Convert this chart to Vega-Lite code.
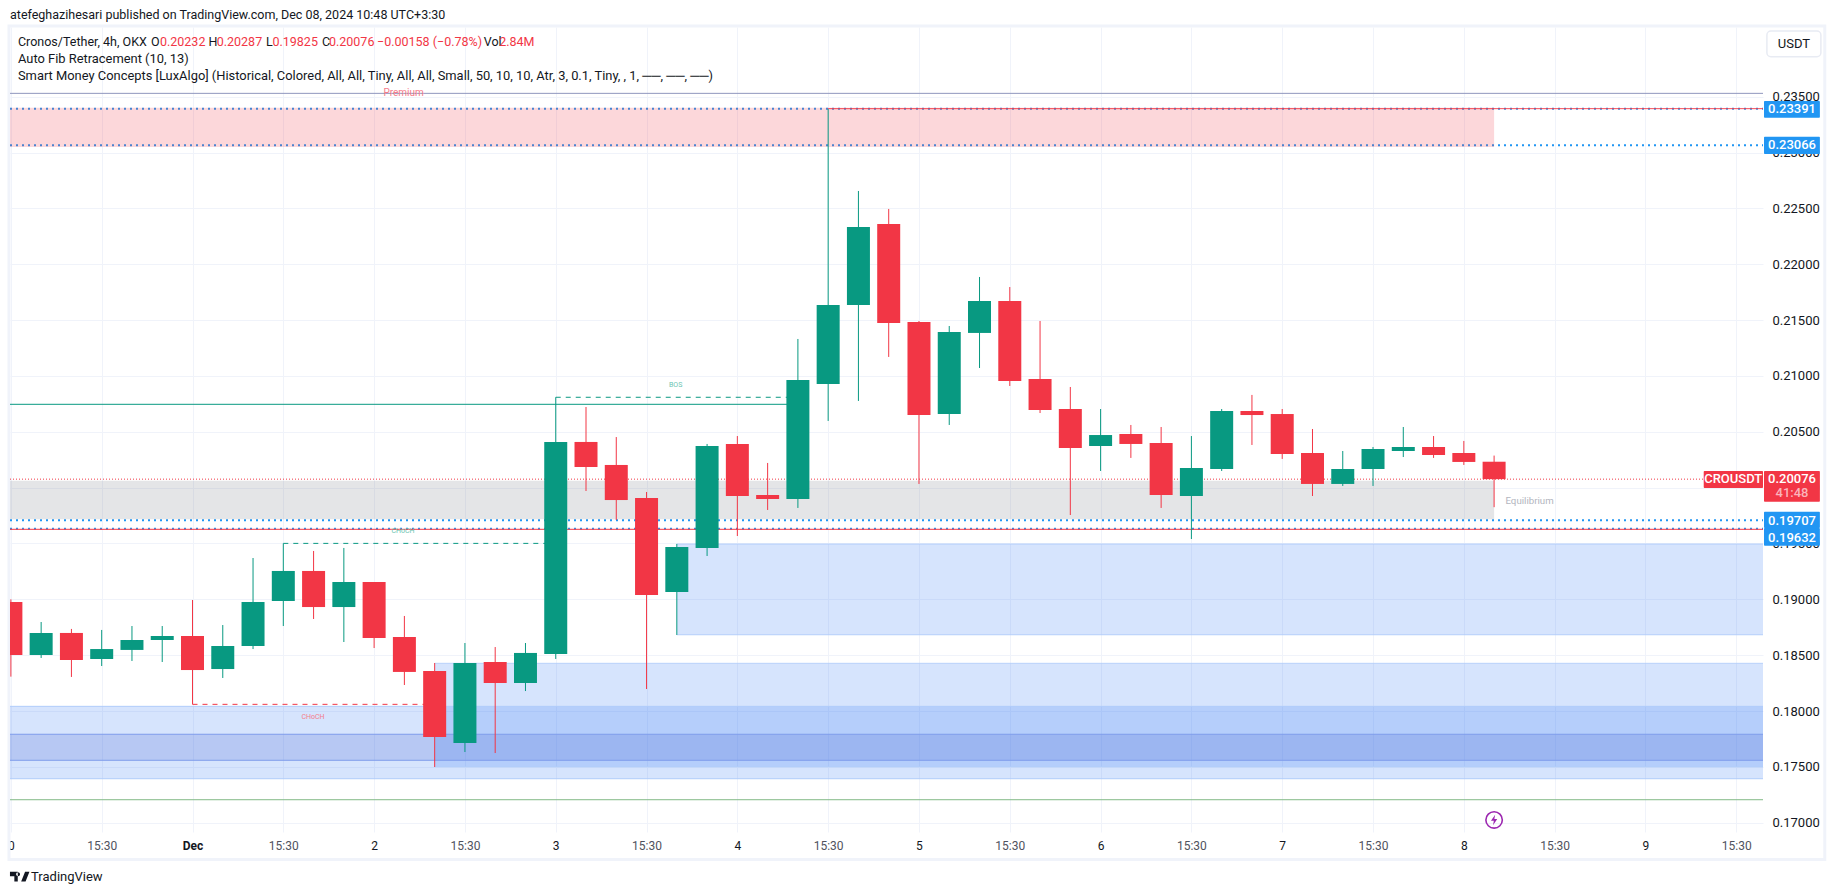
{
"$schema":"https://vega.github.io/schema/vega-lite/v6.json",
"width":1753,"height":805,
"autosize":"none",
"padding":{"left":10,"top":27,"right":72,"bottom":63},
"background":"#ffffff",
"resolve":{"axis":{"x":"independent","y":"independent"},"scale":{"color":"independent","fill":"independent","fillOpacity":"independent","strokeDash":"independent"}},
"config":{"view":{"stroke":null},"text":{"font":"Roboto"},"axis":{"labelFont":"Roboto"}},
"datasets":{
"candles":[
{"t":"2024-11-30T03:30:00Z","o":0.18976,"h":0.19,"l":0.18308,"c":0.18502,"dir":"down"},
{"t":"2024-11-30T07:30:00Z","o":0.18502,"h":0.18797,"l":0.18475,"c":0.18699,"dir":"up"},
{"t":"2024-11-30T11:30:00Z","o":0.18699,"h":0.18735,"l":0.18305,"c":0.18457,"dir":"down"},
{"t":"2024-11-30T15:30:00Z","o":0.18466,"h":0.18726,"l":0.18403,"c":0.18555,"dir":"up"},
{"t":"2024-11-30T19:30:00Z","o":0.18547,"h":0.18761,"l":0.18448,"c":0.18636,"dir":"up"},
{"t":"2024-11-30T23:30:00Z","o":0.18636,"h":0.18761,"l":0.18439,"c":0.18672,"dir":"up"},
{"t":"2024-12-01T03:30:00Z","o":0.18672,"h":0.18994,"l":0.1806,"c":0.18367,"dir":"down"},
{"t":"2024-12-01T07:30:00Z","o":0.18376,"h":0.1877,"l":0.18296,"c":0.18582,"dir":"up"},
{"t":"2024-12-01T11:30:00Z","o":0.18582,"h":0.1937,"l":0.18555,"c":0.18976,"dir":"up"},
{"t":"2024-12-01T15:30:00Z","o":0.18985,"h":0.19501,"l":0.18761,"c":0.19254,"dir":"up"},
{"t":"2024-12-01T19:30:00Z","o":0.19254,"h":0.19433,"l":0.18824,"c":0.18931,"dir":"down"},
{"t":"2024-12-01T23:30:00Z","o":0.18931,"h":0.1946,"l":0.18618,"c":0.19155,"dir":"up"},
{"t":"2024-12-02T03:30:00Z","o":0.19155,"h":0.19155,"l":0.18564,"c":0.18654,"dir":"down"},
{"t":"2024-12-02T07:30:00Z","o":0.18663,"h":0.18851,"l":0.18233,"c":0.1835,"dir":"down"},
{"t":"2024-12-02T11:30:00Z","o":0.18359,"h":0.1843,"l":0.17499,"c":0.17768,"dir":"down"},
{"t":"2024-12-02T15:30:00Z","o":0.17714,"h":0.18609,"l":0.17633,"c":0.1843,"dir":"up"},
{"t":"2024-12-02T19:30:00Z","o":0.18439,"h":0.18573,"l":0.17624,"c":0.18251,"dir":"down"},
{"t":"2024-12-02T23:30:00Z","o":0.18251,"h":0.18609,"l":0.18179,"c":0.1852,"dir":"up"},
{"t":"2024-12-03T03:30:00Z","o":0.18511,"h":0.20809,"l":0.18466,"c":0.20409,"dir":"up"},
{"t":"2024-12-03T07:30:00Z","o":0.20409,"h":0.20722,"l":0.1997,"c":0.20185,"dir":"down"},
{"t":"2024-12-03T11:30:00Z","o":0.20203,"h":0.20453,"l":0.1971,"c":0.19889,"dir":"down"},
{"t":"2024-12-03T15:30:00Z","o":0.19907,"h":0.19961,"l":0.18197,"c":0.19039,"dir":"down"},
{"t":"2024-12-03T19:30:00Z","o":0.19066,"h":0.19496,"l":0.18681,"c":0.19469,"dir":"up"},
{"t":"2024-12-03T23:30:00Z","o":0.1946,"h":0.20391,"l":0.19388,"c":0.20373,"dir":"up"},
{"t":"2024-12-04T03:30:00Z","o":0.20391,"h":0.20462,"l":0.19567,"c":0.19925,"dir":"down"},
{"t":"2024-12-04T07:30:00Z","o":0.19934,"h":0.20221,"l":0.198,"c":0.19898,"dir":"down"},
{"t":"2024-12-04T11:30:00Z","o":0.19898,"h":0.21331,"l":0.19818,"c":0.20964,"dir":"up"},
{"t":"2024-12-04T15:30:00Z","o":0.20928,"h":0.2339,"l":0.20597,"c":0.21635,"dir":"up"},
{"t":"2024-12-04T19:30:00Z","o":0.21635,"h":0.22656,"l":0.20776,"c":0.22334,"dir":"up"},
{"t":"2024-12-04T23:30:00Z","o":0.2236,"h":0.22495,"l":0.2117,"c":0.21474,"dir":"down"},
{"t":"2024-12-05T03:30:00Z","o":0.21483,"h":0.21492,"l":0.20033,"c":0.2065,"dir":"down"},
{"t":"2024-12-05T07:30:00Z","o":0.20659,"h":0.21447,"l":0.20561,"c":0.21394,"dir":"up"},
{"t":"2024-12-05T11:30:00Z","o":0.21385,"h":0.21886,"l":0.21071,"c":0.21671,"dir":"up"},
{"t":"2024-12-05T15:30:00Z","o":0.21671,"h":0.21796,"l":0.2091,"c":0.20955,"dir":"down"},
{"t":"2024-12-05T19:30:00Z","o":0.20973,"h":0.21492,"l":0.20668,"c":0.20695,"dir":"down"},
{"t":"2024-12-05T23:30:00Z","o":0.20704,"h":0.20901,"l":0.19755,"c":0.20355,"dir":"down"},
{"t":"2024-12-06T03:30:00Z","o":0.20373,"h":0.20704,"l":0.20149,"c":0.20471,"dir":"up"},
{"t":"2024-12-06T07:30:00Z","o":0.2048,"h":0.20561,"l":0.20266,"c":0.20391,"dir":"down"},
{"t":"2024-12-06T11:30:00Z","o":0.204,"h":0.20543,"l":0.19818,"c":0.19934,"dir":"down"},
{"t":"2024-12-06T15:30:00Z","o":0.19925,"h":0.20462,"l":0.1954,"c":0.20176,"dir":"up"},
{"t":"2024-12-06T19:30:00Z","o":0.20167,"h":0.20704,"l":0.20149,"c":0.20686,"dir":"up"},
{"t":"2024-12-06T23:30:00Z","o":0.20686,"h":0.2083,"l":0.20382,"c":0.2065,"dir":"down"},
{"t":"2024-12-07T03:30:00Z","o":0.20659,"h":0.20704,"l":0.20257,"c":0.20301,"dir":"down"},
{"t":"2024-12-07T07:30:00Z","o":0.2031,"h":0.20525,"l":0.19925,"c":0.20033,"dir":"down"},
{"t":"2024-12-07T11:30:00Z","o":0.20033,"h":0.20328,"l":0.20015,"c":0.20167,"dir":"up"},
{"t":"2024-12-07T15:30:00Z","o":0.20167,"h":0.20364,"l":0.20015,"c":0.20346,"dir":"up"},
{"t":"2024-12-07T19:30:00Z","o":0.20328,"h":0.20543,"l":0.20274,"c":0.20364,"dir":"up"},
{"t":"2024-12-07T23:30:00Z","o":0.20364,"h":0.20462,"l":0.20266,"c":0.20292,"dir":"down"},
{"t":"2024-12-08T03:30:00Z","o":0.2031,"h":0.20418,"l":0.20203,"c":0.2023,"dir":"down"},
{"t":"2024-12-08T07:30:00Z","o":0.20232,"h":0.20287,"l":0.19825,"c":0.20076,"dir":"down"}
],
"zones":[
{"name":"Premium","t1":"2024-11-30T03:23:00Z","t2":"2024-12-08T07:30:00Z","p1":0.234,"p2":0.2305},
{"name":"Equilibrium","t1":"2024-11-30T03:23:00Z","t2":"2024-12-08T07:30:00Z","p1":0.20062,"p2":0.19717},
{"name":"Box A","t1":"2024-12-03T19:30:00Z","t2":"2024-12-09T19:02:00Z","p1":0.19495,"p2":0.18683},
{"name":"Box B","t1":"2024-12-02T11:30:00Z","t2":"2024-12-09T19:02:00Z","p1":0.18427,"p2":0.17502},
{"name":"Box C","t1":"2024-11-30T03:23:00Z","t2":"2024-12-09T19:02:00Z","p1":0.18042,"p2":0.17394},
{"name":"Box D","t1":"2024-11-30T03:23:00Z","t2":"2024-12-09T19:02:00Z","p1":0.17792,"p2":0.17559}
],
"backLines":[
{"t1":"2024-11-30T03:23:00Z","t2":"2024-12-09T19:02:00Z","p":0.23391},
{"t1":"2024-11-30T03:23:00Z","t2":"2024-12-09T19:02:00Z","p":0.23066},
{"t1":"2024-11-30T03:23:00Z","t2":"2024-12-09T19:02:00Z","p":0.19707},
{"t1":"2024-11-30T03:23:00Z","t2":"2024-12-09T19:02:00Z","p":0.19632}
],
"frontLines":[
{"t1":"2024-11-30T03:23:00Z","t2":"2024-12-09T19:02:00Z","p":0.2353,"style":"top"},
{"t1":"2024-12-04T15:30:00Z","t2":"2024-12-09T19:02:00Z","p":0.23393,"style":"red"},
{"t1":"2024-11-30T03:23:00Z","t2":"2024-12-09T19:02:00Z","p":0.19627,"style":"red"},
{"t1":"2024-11-30T03:23:00Z","t2":"2024-12-09T19:02:00Z","p":0.17206,"style":"bottom"},
{"t1":"2024-11-30T03:23:00Z","t2":"2024-12-04T11:30:00Z","p":0.20746,"style":"green"},
{"t1":"2024-12-03T03:30:00Z","t2":"2024-12-04T11:30:00Z","p":0.20809,"style":"greenDash"},
{"t1":"2024-12-01T15:30:00Z","t2":"2024-12-03T03:30:00Z","p":0.19501,"style":"greenDash"},
{"t1":"2024-12-01T03:30:00Z","t2":"2024-12-02T11:30:00Z","p":0.1806,"style":"redDash"},
{"t1":"2024-11-30T03:23:00Z","t2":"2024-12-09T19:02:00Z","p":0.20076,"style":"price"},
{"t1":"2024-12-03T19:30:00Z","t2":"2024-12-09T19:02:00Z","p":0.19495,"style":"edge"},
{"t1":"2024-12-03T19:30:00Z","t2":"2024-12-09T19:02:00Z","p":0.18683,"style":"edge"},
{"t1":"2024-12-02T11:30:00Z","t2":"2024-12-09T19:02:00Z","p":0.18427,"style":"edge"},
{"t1":"2024-12-02T11:30:00Z","t2":"2024-12-09T19:02:00Z","p":0.17502,"style":"edge"},
{"t1":"2024-11-30T03:23:00Z","t2":"2024-12-09T19:02:00Z","p":0.18042,"style":"edge"},
{"t1":"2024-11-30T03:23:00Z","t2":"2024-12-09T19:02:00Z","p":0.17394,"style":"edge"},
{"t1":"2024-11-30T03:23:00Z","t2":"2024-12-09T19:02:00Z","p":0.17792,"style":"edgeDark"},
{"t1":"2024-11-30T03:23:00Z","t2":"2024-12-09T19:02:00Z","p":0.17559,"style":"edgeDark"}
],
"notes":[
{"t":"2024-12-03T19:21:00Z","p":0.20919,"label":"BOS","kind":"greenNote"},
{"t":"2024-12-02T07:19:00Z","p":0.19609,"label":"CHoCH","kind":"greenNote"},
{"t":"2024-12-01T19:25:00Z","p":0.17949,"label":"CHoCH","kind":"redNote"}
],
"premiumText":[{"t":"2024-12-02T07:24:00Z","p":0.23536,"label":"Premium"}],
"header":[
{"t":"2024-11-30T03:23:00Z","p":0.24234,"label":"atefeghazihesari published on TradingView.com, Dec 08, 2024 10:48 UTC+3:30","kind":"ink"},
{"t":"2024-11-30T04:26:00Z","p":0.2399,"label":"Cronos/Tether, 4h, OKX","kind":"ink"},
{"t":"2024-11-30T22:01:00Z","p":0.2399,"label":"O","kind":"ink"},
{"t":"2024-11-30T23:12:00Z","p":0.2399,"label":"0.20232","kind":"red"},
{"t":"2024-12-01T05:36:00Z","p":0.2399,"label":"H","kind":"ink"},
{"t":"2024-12-01T06:42:00Z","p":0.2399,"label":"0.20287","kind":"red"},
{"t":"2024-12-01T13:13:00Z","p":0.2399,"label":"L","kind":"ink"},
{"t":"2024-12-01T14:04:00Z","p":0.2399,"label":"0.19825","kind":"red"},
{"t":"2024-12-01T20:36:00Z","p":0.2399,"label":"C","kind":"ink"},
{"t":"2024-12-01T21:32:00Z","p":0.2399,"label":"0.20076","kind":"red"},
{"t":"2024-12-02T03:53:00Z","p":0.2399,"label":"−0.00158 (−0.78%)","kind":"red"},
{"t":"2024-12-02T17:59:00Z","p":0.2399,"label":"Vol","kind":"ink"},
{"t":"2024-12-02T20:02:00Z","p":0.2399,"label":"2.84M","kind":"red"}
],
"legendLines":[
{"t":"2024-11-30T04:26:00Z","p":0.23838,"label":"Auto Fib Retracement (10, 13)"},
{"t":"2024-11-30T04:26:00Z","p":0.23683,"label":"Smart Money Concepts [LuxAlgo] (Historical, Colored, All, All, Tiny, All, All, Small, 50, 10, 10, Atr, 3, 0.1, Tiny, , 1, ──, ──, ──)"}
],
"tags":[
{"t1":"2024-12-09T19:10:00Z","t2":"2024-12-10T02:33:00Z","p1":0.23462,"p2":0.23312,"kind":"blue"},
{"t1":"2024-12-09T19:10:00Z","t2":"2024-12-10T02:33:00Z","p1":0.23141,"p2":0.22987,"kind":"blue"},
{"t1":"2024-12-09T19:10:00Z","t2":"2024-12-10T02:33:00Z","p1":0.19785,"p2":0.19639,"kind":"blue"},
{"t1":"2024-12-09T19:10:00Z","t2":"2024-12-10T02:33:00Z","p1":0.19639,"p2":0.1948,"kind":"blue"},
{"t1":"2024-12-09T19:10:00Z","t2":"2024-12-10T02:33:00Z","p1":0.20149,"p2":0.19874,"kind":"red"},
{"t1":"2024-12-09T11:12:00Z","t2":"2024-12-09T19:02:00Z","p1":0.20149,"p2":0.19997,"kind":"red"}
],
"tagText":[
{"t":"2024-12-09T22:52:00Z","p":0.23391,"label":"0.23391","kind":"main"},
{"t":"2024-12-09T22:52:00Z","p":0.23066,"label":"0.23066","kind":"main"},
{"t":"2024-12-09T22:52:00Z","p":0.20076,"label":"0.20076","kind":"main"},
{"t":"2024-12-09T22:52:00Z","p":0.19949,"label":"41:48","kind":"soft"},
{"t":"2024-12-09T22:52:00Z","p":0.19704,"label":"0.19707","kind":"main"},
{"t":"2024-12-09T22:52:00Z","p":0.19552,"label":"0.19632","kind":"main"},
{"t":"2024-12-09T15:06:00Z","p":0.20076,"label":"CROUSDT","kind":"main"}
],
"frame":[{"t1":"2024-11-30T03:15:00Z","t2":"2024-12-10T03:12:00Z","p1":0.24133,"p2":0.16671}],
"button":[{"t1":"2024-12-09T19:33:00Z","t2":"2024-12-10T02:41:00Z","p1":0.24088,"p2":0.23858}],
"buttonText":[{"t":"2024-12-09T23:07:00Z","p":0.23972,"label":"USDT"}],
"equilibriumText":[{"t":"2024-12-08T09:00:00Z","p":0.1988,"label":"Equilibrium"}],
"brand":[{"t":"2024-11-30T06:10:00Z","p":0.16517,"label":"TradingView"}],
"logo":[{"t":"2024-11-30T04:40:00Z","p":0.16517}],
"alert":[{"t":"2024-12-08T07:30:00Z","p":0.17025}]
},
"layer":[
{"data":{"name":"frame"},"mark":{"type":"rect","fillOpacity":0,"stroke":"#f0f3fa","strokeWidth":3},
 "encoding":{
  "x":{"field":"t1","type":"temporal","title":null,
   "scale":{"type":"utc","domain":["2024-11-30T03:23:00Z","2024-12-09T19:02:00Z"],"nice":false,"padding":0},
   "axis":{"orient":"bottom","domain":false,"ticks":false,"grid":true,"gridColor":"#f0f3fa","gridWidth":1,"labelFontSize":12,"labelPadding":8,"labelOverlap":false,"labelFlush":false,"labelBound":false,
    "labelColor":{"condition":{"test":"utchours(datum.value)==15","value":"#50535e"},"value":"#131722"},
    "labelFontWeight":{"condition":{"test":"utcdate(datum.value)==1&&utchours(datum.value)==3","value":"bold"},"value":"normal"},
    "values":["2024-11-30T03:30:00Z","2024-11-30T15:30:00Z","2024-12-01T03:30:00Z","2024-12-01T15:30:00Z","2024-12-02T03:30:00Z","2024-12-02T15:30:00Z","2024-12-03T03:30:00Z","2024-12-03T15:30:00Z","2024-12-04T03:30:00Z","2024-12-04T15:30:00Z","2024-12-05T03:30:00Z","2024-12-05T15:30:00Z","2024-12-06T03:30:00Z","2024-12-06T15:30:00Z","2024-12-07T03:30:00Z","2024-12-07T15:30:00Z","2024-12-08T03:30:00Z","2024-12-08T15:30:00Z","2024-12-09T03:30:00Z","2024-12-09T15:30:00Z"],
    "labelExpr":"utchours(datum.value)==15?'15:30':(utcdate(datum.value)==1?'Dec':(utcdate(datum.value)==30?'0':''+utcdate(datum.value)))"}},
  "x2":{"field":"t2"},
  "y":{"field":"p1","type":"quantitative","title":null,
   "scale":{"domain":[0.16917,0.24124],"nice":false,"zero":false},
   "axis":{"orient":"right","domain":false,"ticks":false,"grid":true,"gridColor":"#f0f3fa","gridWidth":1,"labelFontSize":13,"labelColor":"#131722","labelPadding":9,"labelOverlap":false,"labelBound":false,"format":".5f",
    "values":[0.17,0.175,0.18,0.185,0.19,0.195,0.2,0.205,0.21,0.215,0.22,0.225,0.23,0.235]}},
  "y2":{"field":"p2"}}},
{"data":{"name":"backLines"},"mark":{"type":"rule","clip":true,"color":"#2196f3","strokeWidth":2,"strokeDash":[2,4]},
 "encoding":{"x":{"field":"t1","type":"temporal","axis":null},"x2":{"field":"t2"},"y":{"field":"p","type":"quantitative","axis":null}}},
{"data":{"name":"zones"},"mark":{"type":"rect","clip":true},
 "encoding":{"x":{"field":"t1","type":"temporal","axis":null},"x2":{"field":"t2"},"y":{"field":"p1","type":"quantitative","axis":null},"y2":{"field":"p2"},
  "fill":{"field":"name","type":"nominal","legend":null,"scale":{"domain":["Premium","Equilibrium","Box A","Box B","Box C","Box D"],"range":["#f23645","#787b86","#3179f5","#3179f5","#3179f5","#3e5ccd"]}},
  "fillOpacity":{"field":"name","type":"ordinal","legend":null,"scale":{"domain":["Premium","Equilibrium","Box A","Box B","Box C","Box D"],"range":[0.2,0.2,0.2,0.2,0.2,0.25]}}}},
{"data":{"name":"frontLines"},"mark":{"type":"rule","clip":true,"strokeWidth":1},
 "encoding":{"x":{"field":"t1","type":"temporal","axis":null},"x2":{"field":"t2"},"y":{"field":"p","type":"quantitative","axis":null},
  "color":{"field":"style","type":"nominal","legend":null,"scale":{"domain":["top","red","bottom","green","greenDash","redDash","price","edge","edgeDark"],"range":["#8f97bd","#f23645","#82b986","#089981","#089981","#f23645","#f23645","#b0ccfa","#7f9ceb"]}},
  "strokeDash":{"field":"style","type":"nominal","legend":null,"scale":{"domain":["top","red","bottom","green","greenDash","redDash","price","edge","edgeDark"],"range":[[1,0],[1,0],[1,0],[1,0],[5,5],[5,5],[1,2],[1,0],[1,0]]}}}},
{"data":{"name":"candles"},"mark":{"type":"rule","clip":true,"strokeWidth":1},
 "encoding":{"x":{"field":"t","type":"temporal","axis":null},"y":{"field":"l","type":"quantitative","axis":null},"y2":{"field":"h"},
  "color":{"field":"dir","type":"nominal","legend":null,"scale":{"domain":["up","down"],"range":["#089981","#f23645"]}}}},
{"data":{"name":"candles"},"mark":{"type":"bar","clip":true,"size":23,"cornerRadius":0},
 "encoding":{"x":{"field":"t","type":"temporal","axis":null,"scale":{"padding":0}},"y":{"field":"o","type":"quantitative","axis":null},"y2":{"field":"c"},
  "color":{"field":"dir","type":"nominal","legend":null,"scale":{"domain":["up","down"],"range":["#089981","#f23645"]}}}},
{"data":{"name":"notes"},"mark":{"type":"text","align":"center","baseline":"middle","fontSize":7,"font":"Roboto"},
 "encoding":{"x":{"field":"t","type":"temporal","axis":null},"y":{"field":"p","type":"quantitative","axis":null},"text":{"field":"label"},
  "color":{"field":"kind","type":"nominal","legend":null,"scale":{"domain":["redNote","greenNote"],"range":["#f57c8a","#6cc5b2"]}}}},
{"data":{"name":"premiumText"},"mark":{"type":"text","align":"center","baseline":"middle","fontSize":10,"font":"Roboto","color":"#f57c8a"},
 "encoding":{"x":{"field":"t","type":"temporal","axis":null},"y":{"field":"p","type":"quantitative","axis":null},"text":{"field":"label"}}},
{"data":{"name":"equilibriumText"},"mark":{"type":"text","align":"left","baseline":"middle","fontSize":9.7,"color":"#b2b5be","font":"Roboto"},
 "encoding":{"x":{"field":"t","type":"temporal","axis":null},"y":{"field":"p","type":"quantitative","axis":null},"text":{"field":"label"}}},
{"data":{"name":"header"},"mark":{"type":"text","align":"left","baseline":"middle","fontSize":12.5,"font":"Roboto"},
 "encoding":{"x":{"field":"t","type":"temporal","axis":null},"y":{"field":"p","type":"quantitative","axis":null},"text":{"field":"label"},
  "color":{"field":"kind","type":"nominal","legend":null,"scale":{"domain":["ink","red"],"range":["#131722","#f23645"]}}}},
{"data":{"name":"legendLines"},"mark":{"type":"text","align":"left","baseline":"middle","fontSize":12.9,"font":"Roboto","color":"#131722"},
 "encoding":{"x":{"field":"t","type":"temporal","axis":null},"y":{"field":"p","type":"quantitative","axis":null},"text":{"field":"label"}}},
{"data":{"name":"tags"},"mark":{"type":"rect","cornerRadius":1},
 "encoding":{"x":{"field":"t1","type":"temporal","axis":null},"x2":{"field":"t2"},"y":{"field":"p1","type":"quantitative","axis":null},"y2":{"field":"p2"},
  "fill":{"field":"kind","type":"nominal","legend":null,"scale":{"domain":["blue","red"],"range":["#2196f3","#f23645"]}}}},
{"data":{"name":"tagText"},"mark":{"type":"text","align":"center","baseline":"middle","fontSize":13,"font":"Roboto","fontWeight":500},
 "encoding":{"x":{"field":"t","type":"temporal","axis":null},"y":{"field":"p","type":"quantitative","axis":null},"text":{"field":"label"},
  "color":{"field":"kind","type":"nominal","legend":null,"scale":{"domain":["main","soft"],"range":["#ffffff","#fbb4bb"]}}}},
{"data":{"name":"button"},"mark":{"type":"rect","fill":"#ffffff","stroke":"#e8ebf3","strokeWidth":1.5,"cornerRadius":4},
 "encoding":{"x":{"field":"t1","type":"temporal","axis":null},"x2":{"field":"t2"},"y":{"field":"p1","type":"quantitative","axis":null},"y2":{"field":"p2"}}},
{"data":{"name":"buttonText"},"mark":{"type":"text","align":"center","baseline":"middle","fontSize":13,"color":"#131722","font":"Roboto"},
 "encoding":{"x":{"field":"t","type":"temporal","axis":null},"y":{"field":"p","type":"quantitative","axis":null},"text":{"field":"label"}}},
{"data":{"name":"brand"},"mark":{"type":"text","align":"left","baseline":"middle","fontSize":13,"color":"#131722","font":"Roboto"},
 "encoding":{"x":{"field":"t","type":"temporal","axis":null},"y":{"field":"p","type":"quantitative","axis":null},"text":{"field":"label"}}},
{"data":{"name":"logo"},"mark":{"type":"point","filled":true,"opacity":1,"color":"#131722","size":380,"shape":"M-1 -0.5H-0.2V0.5H-0.55V-0.05H-1ZM0.55 -0.5H1L0.6 0.5H0.15ZM0.03 -0.27A0.2 0.2 0 1 0 0.03 -0.22Z"},
 "encoding":{"x":{"field":"t","type":"temporal","axis":null},"y":{"field":"p","type":"quantitative","axis":null}}},
{"data":{"name":"alert"},"mark":{"type":"point","shape":"circle","filled":false,"color":"#9c27b0","strokeWidth":1.6,"size":270,"opacity":1},
 "encoding":{"x":{"field":"t","type":"temporal","axis":null},"y":{"field":"p","type":"quantitative","axis":null}}},
{"data":{"name":"alert"},"mark":{"type":"point","filled":true,"opacity":1,"color":"#9c27b0","size":110,"shape":"M0.2 -1L-0.6 0.15H-0.05L-0.2 1L0.6 -0.2H0.05Z"},
 "encoding":{"x":{"field":"t","type":"temporal","axis":null},"y":{"field":"p","type":"quantitative","axis":null}}}
]
}
